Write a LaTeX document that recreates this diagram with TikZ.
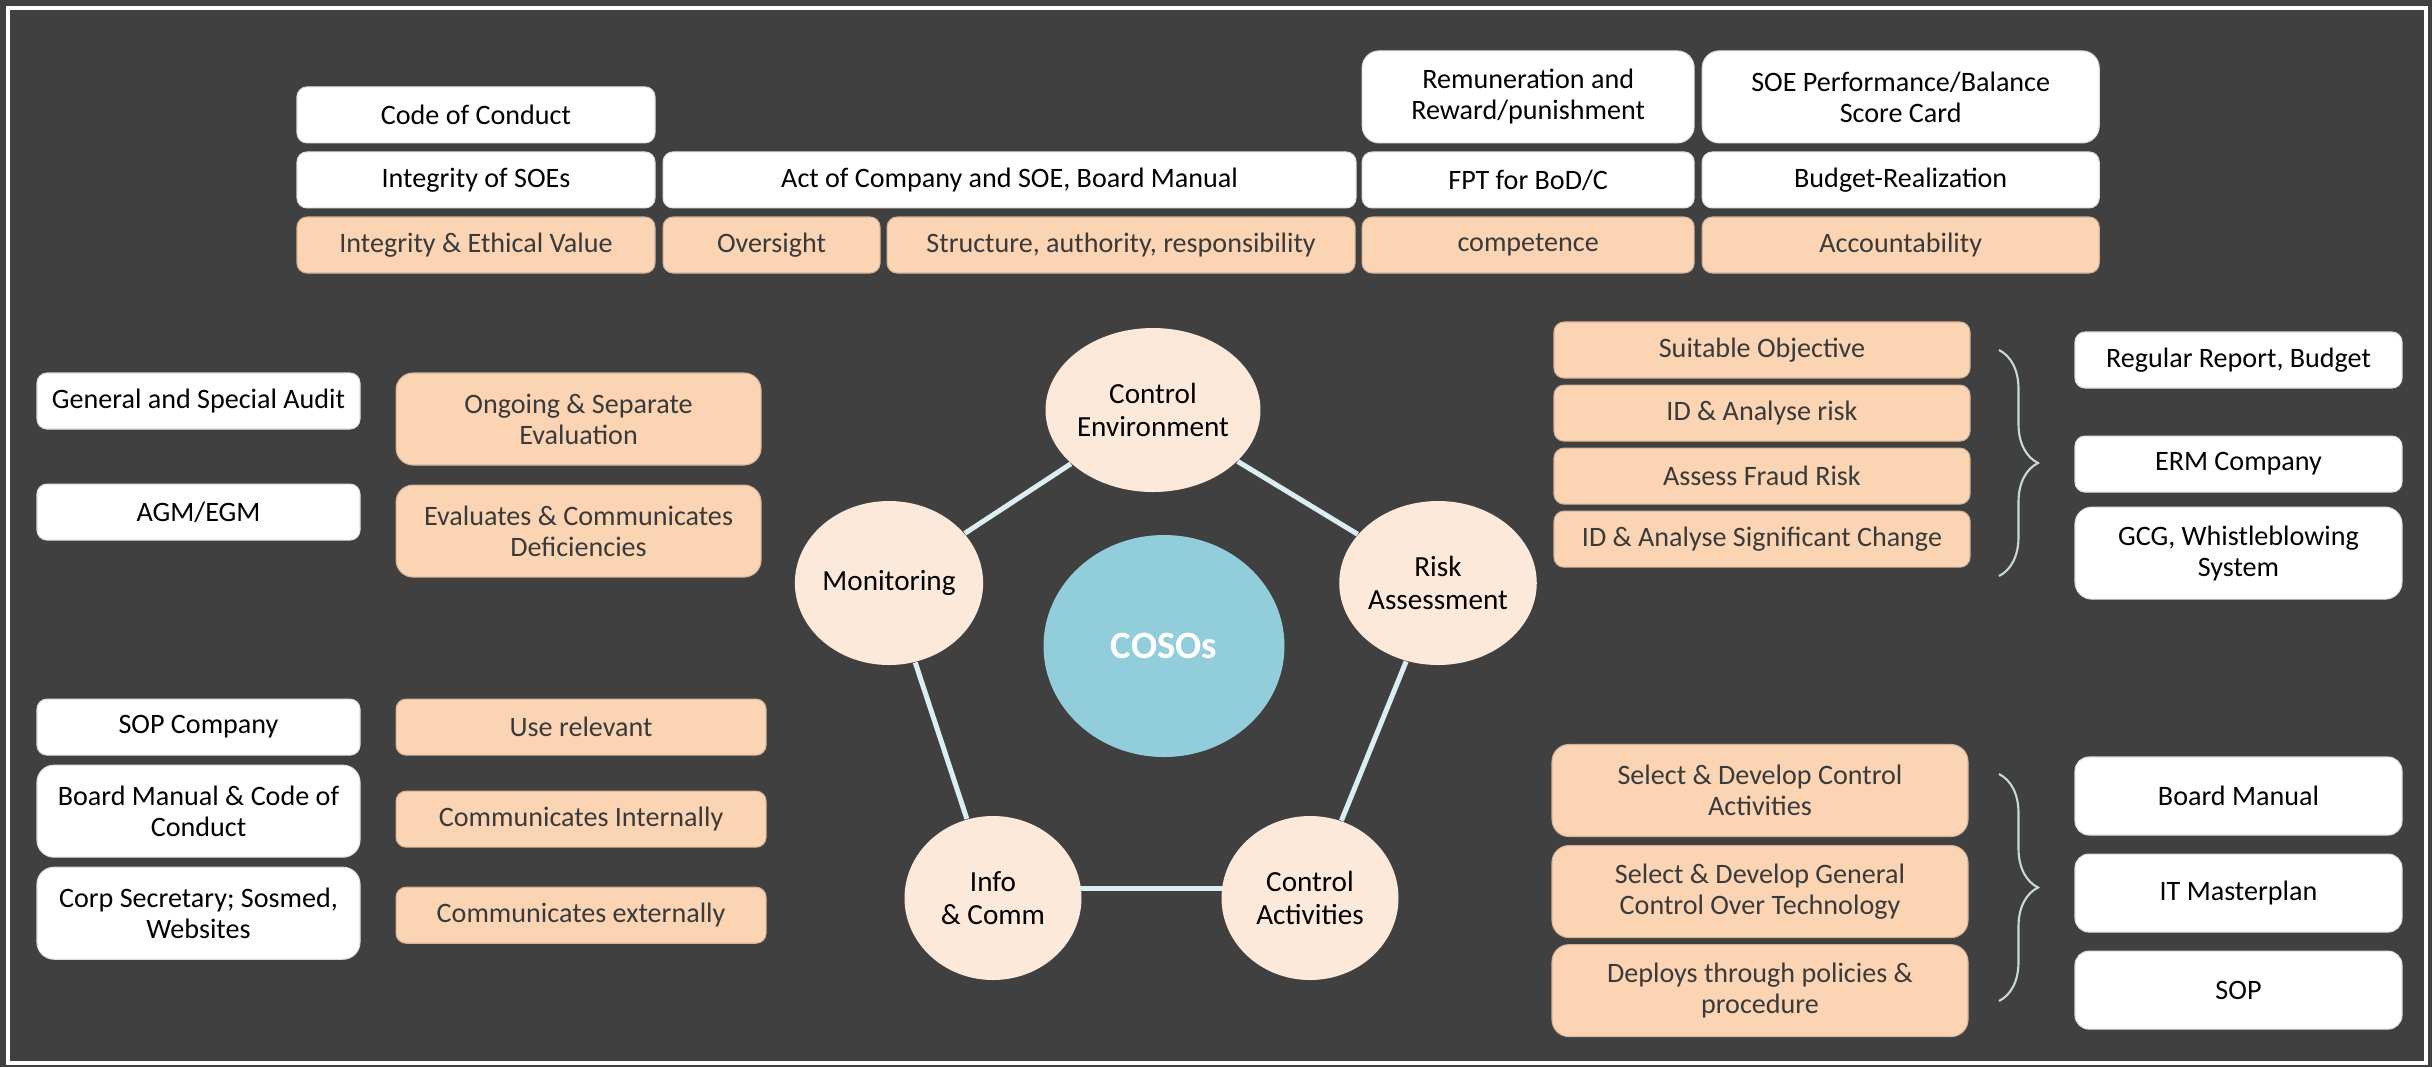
\documentclass[tikz,border=0pt]{standalone}
\usepackage{fontspec}
\setmainfont{Carlito}
\usepackage{xcolor}
\usepackage{tikz}
\usetikzlibrary{positioning,shapes.geometric,decorations.pathreplacing}
\pgfdeclarelayer{background}
\pgfsetlayers{background,main}
\definecolor{bgdark}{HTML}{404040}
\definecolor{peach}{HTML}{FBD4B4}
\definecolor{blush}{HTML}{FDE9D9}
\definecolor{aqua}{HTML}{92CDDC}
\definecolor{linkblue}{HTML}{DAEEF3}
\definecolor{inkgray}{HTML}{3A3A3A}

\begin{document}
\begin{tikzpicture}[
    wbox/.style={draw=black!12,line width=0.3pt,fill=white,rounded corners=0.1cm,
                 minimum height=0.56cm,inner sep=1pt,align=center,text=black,
                 font=\fontsize{8}{8.8}\selectfont},
    pbox/.style={wbox,fill=peach,draw=peach!85!black,text=inkgray},
    tall/.style={minimum height=0.92cm,rounded corners=0.17cm},
    comp/.style={ellipse,fill=blush,minimum width=1.77cm,minimum height=1.64cm,
                 inner sep=0pt,align=center,font=\fontsize{8.3}{9.2}\selectfont},
    core/.style={ellipse,fill=aqua,minimum width=2.41cm,minimum height=2.22cm,
                 inner sep=0pt,text=white,font=\fontsize{11}{12}\selectfont\bfseries},
    link/.style={draw=linkblue,line width=0.05cm},
    curly/.style={draw=linkblue!80!gray,line width=0.6pt,decorate,
                  decoration={brace,amplitude=0.39cm}}
  ]
    \node[pbox,minimum width=3.58cm] (iev) at (4.76,-2.45) {Integrity \& Ethical Value};
    \node[wbox,minimum width=3.58cm,above=0.08cm of iev] (ios) {Integrity of SOEs};
    \node[wbox,minimum width=3.58cm,above=0.08cm of ios] (coc) {Code of Conduct};
    \node[pbox,minimum width=2.17cm,right=0.07cm of iev] (ovs) {Oversight};
    \node[pbox,minimum width=4.68cm,right=0.06cm of ovs] (sar) {Structure, authority, responsibility};
    \node[wbox,minimum width=6.93cm,above=0.08cm of ovs.north west,anchor=south west] (act) {Act of Company and SOE, Board Manual};
    \node[pbox,minimum width=3.32cm,right=0.06cm of sar] (cmp) {competence};
    \node[wbox,minimum width=3.32cm,above=0.08cm of cmp] (fpt) {FPT for BoD/C};
    \node[wbox,tall,minimum width=3.32cm,above=0.08cm of fpt] (rem) {Remuneration and\\Reward/punishment};
    \node[pbox,minimum width=3.97cm,right=0.07cm of cmp] (acc) {Accountability};
    \node[wbox,minimum width=3.97cm,above=0.08cm of acc] (bud) {Budget-Realization};
    \node[wbox,tall,minimum width=3.97cm,above=0.08cm of bud] (sbc) {SOE Performance/Balance\\Score Card};

    \node[wbox,minimum width=3.23cm] (gsa) at (1.985,-4.01) {General and Special Audit};
    \node[wbox,minimum width=3.23cm,below=0.54cm of gsa] (agm) {AGM/EGM};
    \node[pbox,tall,minimum width=3.65cm,right=0.35cm of gsa.north east,anchor=north west] (oge) {Ongoing \& Separate\\Evaluation};
    \node[pbox,tall,minimum width=3.65cm,below=0.19cm of oge] (ecd) {Evaluates \& Communicates\\Deficiencies};

    \node[wbox,minimum width=3.23cm,below=1.58cm of agm] (sopc) {SOP Company};
    \node[wbox,tall,minimum width=3.23cm,below=0.09cm of sopc] (bmc) {Board Manual \& Code of\\Conduct};
    \node[wbox,tall,minimum width=3.23cm,below=0.09cm of bmc] (csw) {Corp Secretary; Sosmed,\\Websites};
    \node[pbox,minimum width=3.70cm,right=0.35cm of sopc] (urel) {Use relevant};
    \node[pbox,minimum width=3.70cm,below=0.35cm of urel] (cint) {Communicates Internally};
    \node[pbox,minimum width=3.70cm,below=0.39cm of cint] (cext) {Communicates externally};

    \node[comp] (ce) at (11.53,-4.10) {Control\\Environment};
    \node[comp] (mon) at (8.89,-5.83) {Monitoring};
    \node[comp] (ra) at (14.38,-5.83) {Risk\\Assessment};
    \node[comp] (ic) at (9.93,-8.98) {Info\\\& Comm};
    \node[comp] (ca) at (13.10,-8.98) {Control\\Activities};
    \node[core] (coso) at (11.64,-6.46) {COSOs};

    \node[pbox,minimum width=4.16cm] (sob) at (17.62,-3.50) {Suitable Objective};
    \node[pbox,minimum width=4.16cm,below=0.06cm of sob] (idr) {ID \& Analyse risk};
    \node[pbox,minimum width=4.16cm,below=0.06cm of idr] (afr) {Assess Fraud Risk};
    \node[pbox,minimum width=4.16cm,below=0.06cm of afr] (ids) {ID \& Analyse Significant Change};
    \node[wbox,minimum width=3.27cm] (rrb) at (22.385,-3.60) {Regular Report, Budget};
    \node[wbox,minimum width=3.27cm,below=0.47cm of rrb] (erm) {ERM Company};
    \node[wbox,tall,minimum width=3.27cm,below=0.14cm of erm] (gcg) {GCG, Whistleblowing\\System};

    \node[pbox,tall,minimum width=4.16cm] (sdc) at (17.60,-7.905) {Select \& Develop Control\\Activities};
    \node[pbox,tall,minimum width=4.16cm,below=0.08cm of sdc] (sdg) {Select \& Develop General\\Control Over Technology};
    \node[pbox,tall,minimum width=4.16cm,below=0.06cm of sdg] (dpp) {Deploys through policies \&\\procedure};
    \node[wbox,minimum width=3.27cm,minimum height=0.78cm,rounded corners=0.14cm] (bm) at (22.385,-7.96) {Board Manual};
    \node[wbox,minimum width=3.27cm,minimum height=0.78cm,rounded corners=0.14cm,below=0.18cm of bm] (itm) {IT Masterplan};
    \node[wbox,minimum width=3.27cm,minimum height=0.78cm,rounded corners=0.14cm,below=0.18cm of itm] (sop) {SOP};

    \begin{pgfonlayer}{background}
      \fill[bgdark] (0,0) rectangle (24.32,-10.67);
      \draw[white,line width=0.04cm] (0.08,-0.08) rectangle (24.26,-10.63);
      \draw[link] (ce) -- (ra);
      \draw[link] (ra) -- (ca);
      \draw[link] ([yshift=0.1cm]ca.center) -- ([yshift=0.1cm]ic.center);
      \draw[link] (ic) -- (mon);
      \draw[link] (mon) -- (ce);
    \end{pgfonlayer}

    \draw[curly] (19.99,-3.50) -- (19.99,-5.76);
    \draw[curly] (19.99,-7.74) -- (19.99,-10.01);
  \end{tikzpicture}
\end{document}
